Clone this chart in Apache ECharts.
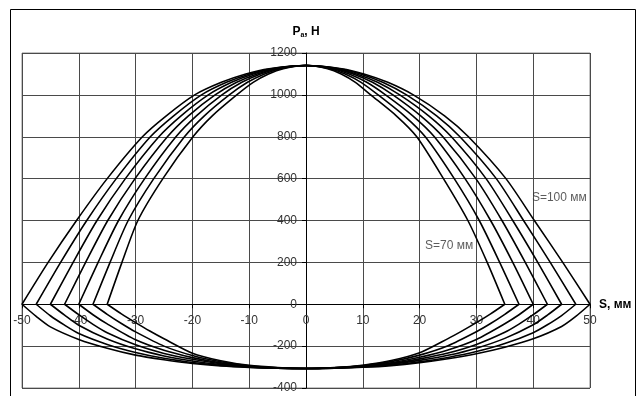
<!DOCTYPE html>
<html>
<head>
<meta charset="utf-8">
<script src="https://cdn.jsdelivr.net/npm/echarts@6/dist/echarts.min.js"></script>
<style>
  html, body { margin: 0; padding: 0; background: #fff; }
  #chart { width: 643px; height: 396px; }
</style>
</head>
<body>
<div id="chart"></div>
<script>
// Piston stroke values, mm (one closed loop per stroke)
const strokes = [100, 95, 90, 85, 80, 75, 70];

// Upper branch: force levels, N, and the |S| where each loop crosses them
const upperForce = [0, 200, 400, 600, 800, 900, 1000, 1060, 1100, 1125];
const upperLeftX = [
  [50, 45.4, 40.4, 35.0, 28.8, 24.6, 19.6, 14.9, 10.6, 6.5],
  [47.5, 43.2, 38.6, 33.4, 27.4, 23.3, 18.4, 14.0, 9.9, 6.1],
  [45, 41.0, 36.8, 31.8, 25.9, 22.0, 17.2, 13.1, 9.3, 5.7],
  [42.5, 38.8, 34.9, 30.1, 24.4, 20.7, 16.0, 12.2, 8.6, 5.3],
  [40, 36.6, 33.0, 28.4, 22.9, 19.3, 14.8, 11.3, 8.0, 4.9],
  [37.5, 34.5, 31.3, 26.8, 21.4, 17.9, 13.5, 10.3, 7.3, 4.5],
  [35, 32.4, 29.6, 25.2, 19.9, 16.5, 12.2, 9.3, 6.6, 4.0]
];
const upperRightX = [
  [50, 45.2, 40.2, 35.2, 28.6, 24.4, 18.9, 14.4, 10.2, 6.3],
  [47.5, 43.0, 38.3, 33.5, 27.1, 23.0, 17.7, 13.5, 9.6, 5.9],
  [45, 40.8, 36.4, 31.7, 25.6, 21.6, 16.5, 12.6, 8.9, 5.5],
  [42.5, 38.6, 34.5, 29.9, 24.1, 20.2, 15.3, 11.7, 8.3, 5.1],
  [40, 36.4, 32.5, 28.0, 22.6, 18.8, 14.0, 10.7, 7.6, 4.7],
  [37.5, 34.1, 30.5, 26.1, 21.0, 17.3, 12.7, 9.7, 6.9, 4.2],
  [35, 31.9, 28.5, 24.2, 19.5, 15.9, 11.4, 8.7, 6.2, 3.8]
];
// Common top of all loops [S, Pa]
const peakPoint = [0, 1140];

// Lower branch, left half [S, Pa]
const lowerLeft = [
  [[-50, 0], [-47.5, -58], [-45, -108], [-40, -168], [-35, -210], [-30, -243], [-25, -265], [-20, -283], [-15, -295], [-10, -302], [-5, -306], [0, -307]],
  [[-47.5, 0], [-45, -55], [-42.5, -100], [-40, -140], [-35, -192], [-30, -230], [-25, -258], [-20, -278], [-15, -292], [-10, -301], [-5, -305], [0, -307]],
  [[-45, 0], [-42.5, -52], [-40, -100], [-35, -166], [-30, -213], [-25, -247], [-20, -271], [-15, -288], [-10, -299], [-5, -305], [0, -307]],
  [[-42.5, 0], [-40, -50], [-37.5, -96], [-35, -136], [-30, -194], [-25, -235], [-20, -263], [-15, -284], [-10, -298], [-5, -305], [0, -307]],
  [[-40, 0], [-37.5, -50], [-35, -94], [-30, -170], [-25, -220], [-20, -255], [-15, -280], [-10, -296], [-5, -304], [0, -307]],
  [[-37.5, 0], [-35, -48], [-32.5, -92], [-30, -132], [-25, -200], [-20, -245], [-15, -275], [-10, -294], [-5, -303], [0, -307]],
  [[-35, 0], [-32.5, -46], [-30, -88], [-27.5, -128], [-25, -165], [-20, -234], [-15, -270], [-10, -292], [-5, -302], [0, -307]]
];
// Lower branch, right half [S, Pa]
const lowerRight = [
  [[5, -305], [10, -301], [15, -293], [20, -279], [25, -260], [30, -236], [35, -205], [40, -165], [45, -106], [47.5, -58], [50, 0]],
  [[5, -305], [10, -300], [15, -290], [20, -275], [25, -254], [30, -226], [35, -188], [40, -136], [42.5, -98], [45, -54], [47.5, 0]],
  [[5, -304], [10, -298], [15, -286], [20, -268], [25, -244], [30, -210], [35, -163], [40, -98], [42.5, -52], [45, 0]],
  [[5, -304], [10, -297], [15, -283], [20, -261], [25, -233], [30, -192], [35, -134], [37.5, -95], [40, -50], [42.5, 0]],
  [[5, -303], [10, -295], [15, -279], [20, -253], [25, -218], [30, -168], [35, -93], [37.5, -50], [40, 0]],
  [[5, -303], [10, -293], [15, -274], [20, -243], [25, -198], [30, -131], [32.5, -92], [35, -48], [37.5, 0]],
  [[5, -302], [10, -291], [15, -269], [20, -232], [25, -164], [27.5, -127], [30, -88], [32.5, -46], [35, 0]]
];

// Axis ranges and ticks
const sTicks = [-50, 50, 10];
const forceTicks = [-400, 1200, 200];

// Curve labels
const curveNotes = ['S=100 мм', 'S=70 мм'];

const FONT = '"Liberation Sans", Arial, sans-serif';
const lineStyle = { color: '#000', width: 1.6 };

// Plot box in pixels
const GRID_LEFT = 22, GRID_RIGHT = 53, GRID_TOP = 53, GRID_BOTTOM = 8;
const PLOT_W = 643 - GRID_LEFT - GRID_RIGHT;
const PLOT_H = 396 - GRID_TOP - GRID_BOTTOM;
// shifts that make both axes cross at the origin
const yAxisShift = -PLOT_W * (0 - sTicks[0]) / (sTicks[1] - sTicks[0]);
const xAxisShift = -PLOT_H * (0 - forceTicks[0]) / (forceTicks[1] - forceTicks[0]);

function upperBranch(i) {
  const pts = [];
  for (let k = 0; k < upperForce.length; k++) pts.push([-upperLeftX[i][k], upperForce[k]]);
  pts.push(peakPoint);
  for (let k = upperForce.length - 1; k >= 0; k--) pts.push([upperRightX[i][k], upperForce[k]]);
  return pts;
}

const series = [];
strokes.forEach((s, i) => {
  series.push({
    type: 'line', name: 'up' + s, data: upperBranch(i),
    showSymbol: false, smooth: 0.25,
    lineStyle: lineStyle, silent: true, z: 3
  });
  series.push({
    type: 'line', name: 'low' + s, data: lowerLeft[i].concat(lowerRight[i]),
    showSymbol: false, smooth: 0.25,
    lineStyle: lineStyle, silent: true, z: 3
  });
});

series.push({
  type: 'scatter',
  symbolSize: 0,
  silent: true,
  data: [
    { value: [44.6, 507], label: { formatter: curveNotes[0] } },
    { value: [25.2, 282], label: { formatter: curveNotes[1] } }
  ],
  label: {
    show: true, position: 'inside',
    fontFamily: FONT, fontSize: 12, color: '#333'
  },
  z: 4
});

const plain = v => String(v);

const chart = echarts.init(document.getElementById('chart'), null, { renderer: 'canvas' });
chart.setOption({
  animation: false,
  backgroundColor: '#fff',
  grid: {
    left: GRID_LEFT, right: GRID_RIGHT, top: GRID_TOP, bottom: GRID_BOTTOM,
    containLabel: false,
    outerBoundsMode: 'none',
    show: true, borderColor: '#8a8a8a', borderWidth: 1
  },
  xAxis: {
    type: 'value',
    position: 'bottom',
    offset: xAxisShift,
    min: sTicks[0], max: sTicks[1], interval: sTicks[2],
    name: 'S, мм',
    nameLocation: 'end', nameGap: 9,
    nameTextStyle: { fontFamily: FONT, fontSize: 12, fontWeight: 'bold', color: '#000' },
    axisLine: { onZero: false, lineStyle: { color: '#000', width: 1 } },
    axisTick: { show: true, length: 4, lineStyle: { color: '#000' } },
    axisLabel: { fontFamily: FONT, fontSize: 12, color: '#333', margin: 10, formatter: plain },
    splitLine: { show: true, lineStyle: { color: '#4a4a4a', width: 1 } }
  },
  yAxis: {
    type: 'value',
    position: 'left',
    offset: yAxisShift,
    min: forceTicks[0], max: forceTicks[1], interval: forceTicks[2],
    name: 'P{sub|a}, H',
    nameLocation: 'end', nameGap: 14,
    nameTextStyle: {
      fontFamily: FONT, fontSize: 12, fontWeight: 'bold', color: '#000',
      rich: { sub: { fontFamily: FONT, fontSize: 7, fontWeight: 'bold', color: '#000', padding: [7, 0, 0, 0] } }
    },
    axisLine: { onZero: false, lineStyle: { color: '#000', width: 1 } },
    axisTick: { show: true, length: 4, lineStyle: { color: '#000' } },
    axisLabel: { fontFamily: FONT, fontSize: 12, color: '#333', margin: 9, formatter: plain },
    splitLine: { show: true, lineStyle: { color: '#4a4a4a', width: 1 } }
  },
  graphic: [{
    type: 'rect',
    shape: { x: 10.5, y: 9.5, width: 625, height: 420 },
    style: { fill: null, stroke: '#000', lineWidth: 1 },
    silent: true, z: -10
  }],
  series: series
});
</script>
</body>
</html>
